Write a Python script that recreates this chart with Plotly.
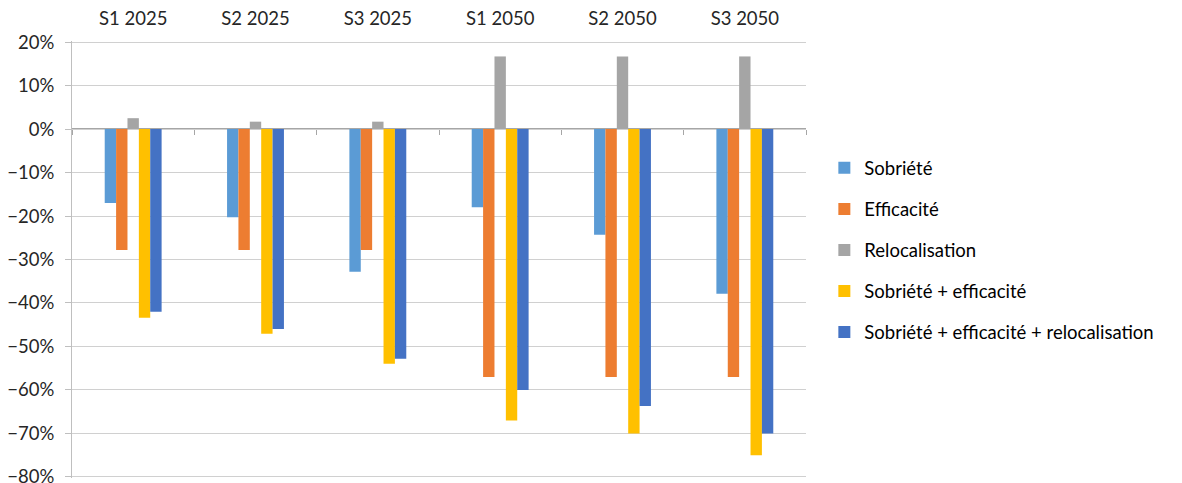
import plotly.graph_objects as go

categories = ["S1 2025", "S2 2025", "S3 2025", "S1 2050", "S2 2050", "S3 2050"]
sobriete = [-0.17, -0.203, -0.328, -0.18, -0.243, -0.379]
efficacite = [-0.278, -0.278, -0.278, -0.57, -0.57, -0.57]
relocalisation = [0.025, 0.017, 0.017, 0.167, 0.167, 0.167]
sob_eff = [-0.434, -0.471, -0.54, -0.67, -0.70, -0.75]
sob_eff_reloc = [-0.42, -0.46, -0.528, -0.60, -0.637, -0.70]
y_ticks = [0.2, 0.1, 0.0, -0.1, -0.2, -0.3, -0.4, -0.5, -0.6, -0.7, -0.8]

series = [
    ("Sobriété", sobriete, "#5B9BD5"),
    ("Efficacité", efficacite, "#ED7D31"),
    ("Relocalisation", relocalisation, "#A5A5A5"),
    ("Sobriété + efficacité", sob_eff, "#FFC000"),
    ("Sobriété + efficacité + relocalisation", sob_eff_reloc, "#4472C4"),
]

FONT = "Lato, 'Open Sans', sans-serif"
FS = 18.5
xs = list(range(len(categories)))

fig = go.Figure()
for i, (name, vals, color) in enumerate(series):
    fig.add_trace(go.Bar(
        x=xs, y=vals, name=name, marker_color=color,
        marker_line_width=0, legendgroup=f"g{i}",
    ))

# invisible trace on secondary x-axis to host category tick marks at 0%
fig.add_trace(go.Scatter(x=[0], y=[0], xaxis="x2", mode="markers",
                         marker_opacity=0, showlegend=False, hoverinfo="skip"))

fig.update_layout(
    width=1182, height=483,
    margin=dict(l=72, r=376, t=41, b=5, autoexpand=False),
    paper_bgcolor="white", plot_bgcolor="white",
    font=dict(family=FONT, size=FS, color="#262626"),
    barmode="group", bargap=0.535, bargroupgap=0,
    xaxis=dict(
        side="top", tickmode="array", tickvals=xs, ticktext=categories,
        range=[-0.5, 5.5], showgrid=False, zeroline=False, showline=False,
        ticks="", ticklabelstandoff=11,
        tickfont=dict(size=FS, color="#262626"),
    ),
    xaxis2=dict(
        overlaying="x", anchor="free", position=0.8, side="bottom",
        range=[-0.5, 5.5], tickmode="array",
        tickvals=[-0.5, 0.5, 1.5, 2.5, 3.5, 4.5, 5.5],
        showticklabels=False, ticks="outside", ticklen=5, tickcolor="#A6A6A6",
        showline=True, linecolor="#A6A6A6", linewidth=1.3,
        showgrid=False, zeroline=False,
    ),
    yaxis=dict(
        range=[-0.8025, 0.2025], tickmode="array", tickvals=y_ticks,
        tickformat=".0%", ticklabeloverflow="allow",
        showgrid=True, gridcolor="#D0D0D0", gridwidth=1,
        zeroline=False, showline=True, linecolor="#BFBFBF",
        ticks="outside", ticklen=6, tickcolor="#BFBFBF",
        ticklabelstandoff=7,
        tickfont=dict(size=FS, color="#262626"),
    ),
    legend=dict(
        x=1.025, xanchor="left", y=0.521, yanchor="middle",
        font=dict(size=FS, color="#000000"),
        tracegroupgap=14, itemsizing="constant",
        bgcolor="rgba(0,0,0,0)",
    ),
    showlegend=True,
)

fig.write_html(
    "out.html",
    config={"displayModeBar": False},
    post_script="document.body.style.margin='0';document.body.style.overflow='hidden';",
)
